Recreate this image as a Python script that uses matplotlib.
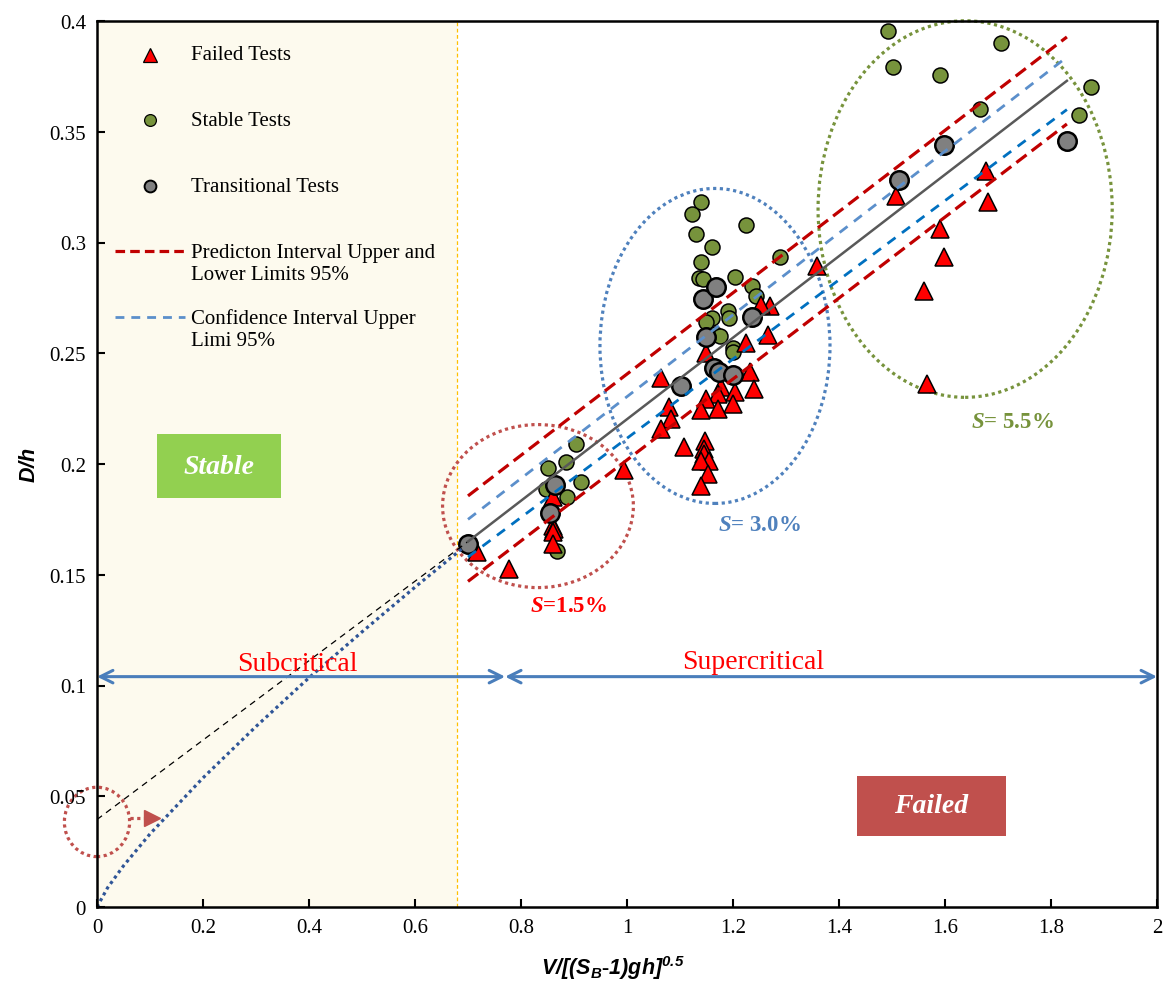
import matplotlib
matplotlib.use("Agg")
import matplotlib.pyplot as plt
from matplotlib.patches import Ellipse, Rectangle

plt.rcParams['font.family'] = ['Liberation Serif', 'DejaVu Serif']
plt.rcParams['mathtext.fontset'] = 'custom'
plt.rcParams['mathtext.sf'] = 'Liberation Sans:bold:italic'
plt.rcParams['mathtext.it'] = 'Liberation Serif:bold:italic'
plt.rcParams['mathtext.bf'] = 'Liberation Serif:bold'
plt.rcParams['mathtext.rm'] = 'Liberation Serif'

# ---------------- data ----------------
fail_x = [0.994, 0.860, 0.860, 0.862, 0.860, 0.860, 0.717, 0.777,
          1.064, 1.266, 1.225, 1.149, 1.232, 1.240, 1.177, 1.204, 1.172, 1.149,
          1.200, 1.172, 1.140, 1.079, 1.083, 1.064, 1.108, 1.147, 1.145, 1.145,
          1.155, 1.140, 1.153, 1.140,
          1.358, 1.270, 1.253,
          1.508, 1.677, 1.681, 1.591, 1.598, 1.560, 1.566]
fail_y = [0.1973, 0.1851, 0.1720, 0.1706, 0.1693, 0.1639, 0.1603, 0.1526,
          0.2388, 0.2582, 0.2546, 0.2501, 0.2415, 0.2339, 0.2348, 0.2325, 0.2316, 0.2293,
          0.2271, 0.2248, 0.2244, 0.2257, 0.2203, 0.2158, 0.2077, 0.2104, 0.2068, 0.2045,
          0.2014, 0.2014, 0.1955, 0.1901,
          0.2894, 0.2713, 0.2718,
          0.3210, 0.3323, 0.3183, 0.3061, 0.2934, 0.2781, 0.2361]

stable_x = [1.492, 1.706, 1.502, 1.591, 1.666, 1.875, 1.853,
            1.140, 1.122, 1.224, 1.130, 1.160, 1.289, 1.140, 1.136, 1.144, 1.204, 1.236, 1.243,
            1.191, 1.192, 1.160, 1.149, 1.166, 1.175, 1.200, 1.200,
            0.904, 0.851, 0.885, 0.913, 0.847, 0.887, 0.868]
stable_y = [0.3955, 0.3900, 0.3792, 0.3756, 0.3603, 0.3702, 0.3576,
            0.3183, 0.3129, 0.3079, 0.3038, 0.2980, 0.2935, 0.2912, 0.2840, 0.2835, 0.2844, 0.2804, 0.2758,
            0.2691, 0.2659, 0.2659, 0.2641, 0.2587, 0.2578, 0.2524, 0.2506,
            0.2090, 0.1980, 0.2009, 0.1919, 0.1887, 0.1851, 0.1607]

trans_x = [0.700, 0.864, 0.855, 1.102, 1.143, 1.168, 1.149, 1.164, 1.174, 1.200, 1.236, 1.513, 1.598, 1.830]
trans_y = [0.1640, 0.1905, 0.1780, 0.2352, 0.2745, 0.2799, 0.2573, 0.2433, 0.2415, 0.2402, 0.2664, 0.3282, 0.3440, 0.3458]

fit_x = [0.70, 1.83]
fit_y = [0.1650, 0.3730]
pi_upper_y = [0.1856, 0.3928]
pi_lower_y = [0.1470, 0.3535]
ci_upper_y = [0.1750, 0.3837]
ci_lower_y = [0.1580, 0.3600]

extrap_x = [0.0, 0.70]
extrap_y = [0.0395, 0.1650]

curve_x = [0.0, 0.02, 0.05, 0.10, 0.20, 0.30, 0.40, 0.50, 0.60, 0.69]
curve_y = [0.0, 0.0087, 0.0186, 0.0330, 0.0583, 0.0815, 0.1035, 0.1242, 0.1444, 0.1620]

x_ticks = [0, 0.2, 0.4, 0.6, 0.8, 1.0, 1.2, 1.4, 1.6, 1.8, 2.0]
x_tick_labels = ['0', '0.2', '0.4', '0.6', '0.8', '1', '1.2', '1.4', '1.6', '1.8', '2']
y_ticks = [0, 0.05, 0.1, 0.15, 0.2, 0.25, 0.3, 0.35, 0.4]
y_tick_labels = ['0', '0.05', '0.1', '0.15', '0.2', '0.25', '0.3', '0.35', '0.4']

subcritical_limit = 0.68
regime_split = 0.77
arrow_y = 0.104

# ---------------- figure ----------------
W, H = 1167, 987
fig = plt.figure(figsize=(W / 100, H / 100), dpi=100)
ax = fig.add_axes([97 / W, 79 / H, 1060 / W, 886 / H])
ax.set_xlim(0, 2)
ax.set_ylim(0, 0.4)

ax.axvspan(0, subcritical_limit, color='#FDFAEE', zorder=0, lw=0)
ax.axvline(subcritical_limit, color='#FFC000', lw=0.9, ls=(0, (3, 2)), zorder=1)

# ellipses
ell_kw = dict(fill=False, lw=2.3, ls=(0, (1, 1.1)), zorder=1.5, clip_on=False)
ax.add_patch(Ellipse((0.832, 0.181), 0.360, 0.0736, edgecolor='#C0504D', **ell_kw))
ax.add_patch(Ellipse((1.166, 0.2533), 0.434, 0.1422, edgecolor='#4F81BD', **ell_kw))
ax.add_patch(Ellipse((1.638, 0.3151), 0.555, 0.1700, edgecolor='#77933C', **ell_kw))
ax.add_patch(Ellipse((0.0, 0.0384), 0.123, 0.0313, edgecolor='#C0504D', **ell_kw))
ax.plot([0.062, 0.092], [0.0400, 0.0400], color='#C0504D', lw=2.3, ls=(0, (1, 1.1)), zorder=1.5)
ax.plot([0.104], [0.0402], marker='>', ms=12, color='#C0504D', mec='#C0504D', zorder=1.6)

# markers
ax.plot(stable_x, stable_y, 'o', ms=10.8, mfc='#77933C', mec='black', mew=1.1, zorder=2)
ax.plot(fail_x, fail_y, '^', ms=13, mfc='#FF0000', mec='black', mew=1.1, zorder=2.2)
ax.plot(trans_x, trans_y, 'o', ms=13.3, mfc='#808080', mec='black', mew=1.8, zorder=2.4)

# fitted lines
ax.plot(curve_x, curve_y, color='#2F5597', lw=2.3, ls=(0, (1, 1.1)), zorder=3)
ax.plot(extrap_x, extrap_y, color='black', lw=0.9, ls=(0, (5, 4)), zorder=3)
ax.plot(fit_x, fit_y, color='#595959', lw=1.8, zorder=3)
ax.plot(fit_x, pi_upper_y, color='#C00000', lw=2.3, ls=(0, (4, 2)), zorder=3)
ax.plot(fit_x, pi_lower_y, color='#C00000', lw=2.3, ls=(0, (4, 2)), zorder=3)
ax.plot(fit_x, ci_upper_y, color='#5B8FCB', lw=2.0, ls=(0, (3.6, 2.9)), zorder=3)
ax.plot(fit_x, ci_lower_y, color='#0070C0', lw=2.0, ls=(0, (3.6, 2.9)), zorder=3)

# regime arrows
arr = dict(arrowstyle='<->,head_length=0.9,head_width=0.45', color='#4A7EBB', lw=2.2,
           shrinkA=0, shrinkB=0)
ax.annotate('', xy=(0, arrow_y), xytext=(regime_split, arrow_y), arrowprops=arr, zorder=3,
            annotation_clip=False)
ax.annotate('', xy=(regime_split, arrow_y), xytext=(2.0, arrow_y), arrowprops=arr, zorder=3,
            annotation_clip=False)
ax.text(0.379, 0.1100, 'Subcritical', color='#FF0000', fontsize=20, ha='center', va='center')
ax.text(1.238, 0.1110, 'Supercritical', color='#FF0000', fontsize=20, ha='center', va='center')

# boxes
ax.add_patch(Rectangle((0.113, 0.1846), 0.234, 0.0289, color='#92D050', zorder=1.8, lw=0))
ax.text(0.230, 0.1990, 'Stable', color='white', fontsize=20, fontweight='bold',
        fontstyle='italic', ha='center', va='center', zorder=4)
ax.add_patch(Rectangle((1.434, 0.0320), 0.281, 0.0271, color='#C0504D', zorder=1.8, lw=0))
ax.text(1.5745, 0.0456, 'Failed', color='white', fontsize=20, fontweight='bold',
        fontstyle='italic', ha='center', va='center', zorder=4)

# slope labels
ax.text(0.889, 0.1359, r'$\mathit{S}$=1.5%', color='#FF0000', fontsize=16.5, fontweight='bold',
        ha='center', va='center')
ax.text(1.249, 0.1729, r'$\mathit{S}$= 3.0%', color='#4F81BD', fontsize=16.5, fontweight='bold',
        ha='center', va='center')
ax.text(1.728, 0.2190, r'$\mathit{S}$= 5.5%', color='#77933C', fontsize=16.5, fontweight='bold',
        ha='center', va='center')

# legend (manual)
def fx(px):
    return (px - 97) / 1060
def fy(py):
    return (908 - py) / 886
ax.plot([fx(150)], [fy(56)], '^', ms=9.5, mfc='#FF0000', mec='black', mew=0.9,
        transform=ax.transAxes, zorder=5, clip_on=False)
ax.plot([fx(150)], [fy(121)], 'o', ms=8.5, mfc='#77933C', mec='black', mew=0.9,
        transform=ax.transAxes, zorder=5, clip_on=False)
ax.plot([fx(150)], [fy(187)], 'o', ms=8.5, mfc='#808080', mec='black', mew=1.4,
        transform=ax.transAxes, zorder=5, clip_on=False)
ax.plot([fx(115), fx(185)], [fy(252), fy(252)], color='#C00000', lw=2.3, ls=(0, (3, 1.6)),
        transform=ax.transAxes, zorder=5)
ax.plot([fx(115), fx(185)], [fy(318), fy(318)], color='#5B8FCB', lw=2.0, ls=(0, (3.2, 2.5)),
        transform=ax.transAxes, zorder=5)
leg_fs = 15
ax.text(fx(191), fy(55), 'Failed Tests', fontsize=leg_fs, va='center', ha='left', transform=ax.transAxes)
ax.text(fx(191), fy(121), 'Stable Tests', fontsize=leg_fs, va='center', ha='left', transform=ax.transAxes)
ax.text(fx(191), fy(187), 'Transitional Tests', fontsize=leg_fs, va='center', ha='left', transform=ax.transAxes)
ax.text(fx(191), fy(264.5), 'Predicton Interval Upper and\nLower Limits 95%', fontsize=leg_fs,
        va='center', ha='left', transform=ax.transAxes, linespacing=1.15)
ax.text(fx(191), fy(330), 'Confidence Interval Upper\nLimi 95%', fontsize=leg_fs,
        va='center', ha='left', transform=ax.transAxes, linespacing=1.15)

# axes styling
ax.set_xticks(x_ticks)
ax.set_xticklabels(x_tick_labels)
ax.set_yticks(y_ticks)
ax.set_yticklabels(y_tick_labels)
ax.tick_params(direction='in', length=6, width=1.5, labelsize=15, pad=8)
for s in ax.spines.values():
    s.set_linewidth(1.8)
    s.set_zorder(6)

fig.text(613 / W, 1 - 968 / H, r'$\mathsf{V/[(S_B\text{-}1)gh]^{0.5}}$', fontsize=15.5,
         ha='center', va='center')
fig.text(30 / W, 1 - 465 / H, r'$\mathsf{D/h}$', fontsize=15.5, ha='center', va='center',
         rotation=90)

fig.savefig('out.png', dpi=100)
